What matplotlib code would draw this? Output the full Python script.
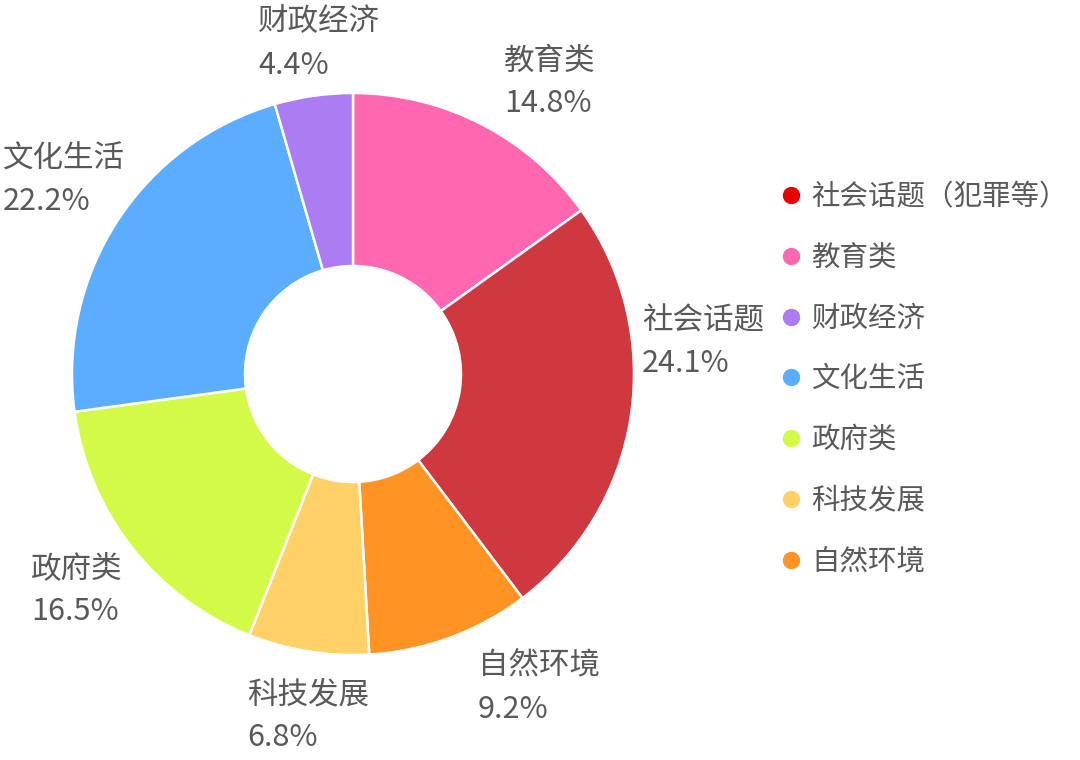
import matplotlib
matplotlib.use("Agg")
import matplotlib.pyplot as plt
from matplotlib.lines import Line2D

plt.rcParams['font.family'] = ['Noto Sans CJK SC', 'DejaVu Sans']
plt.rcParams['font.weight'] = 'medium'

# данные
names = ['教育类', '社会话题', '自然环境', '科技发展', '政府类', '文化生活', '财政经济']
values = [14.8, 24.1, 9.2, 6.8, 16.5, 22.2, 4.4]
colors = ['#FF68B0', '#D0383F', '#FF9424', '#FFD166', '#D4FA48', '#5AADFF', '#AB7CF2']

legend_names = ['社会话题（犯罪等）', '教育类', '财政经济', '文化生活', '政府类', '科技发展', '自然环境']
legend_colors = ['#E60000', '#FF68B0', '#AB7CF2', '#5AADFF', '#D4FA48', '#FFD166', '#FF9424']

# положение подписей (левый край, центр первой строки), пиксели
label_pos = [(504, 61), (642, 321), (478, 666), (247, 695), (31, 569), (3, 159), (258, 22)]
text_color = '#595959'

fig = plt.figure(figsize=(10.8, 7.6), dpi=100)
ax = fig.add_axes([0, 0, 1, 1])

# ось y перевёрнута -> против часовой в данных = по часовой на экране
ax.pie(values, colors=colors, startangle=-90, counterclock=True,
       center=(353, 374), radius=281,
       wedgeprops=dict(width=173, edgecolor='white', linewidth=1.8))
ax.set_xlim(0, 1080)
ax.set_ylim(760, 0)
ax.set_aspect('equal')
ax.axis('off')

for name, v, (x, y) in zip(names, values, label_pos):
    ax.text(x, y, name, fontsize=22, color=text_color, ha='left', va='center')
    ax.text(x, y + 43, '%.1f%%' % v, fontsize=22, color=text_color, ha='left', va='center')

handles = [Line2D([], [], marker='o', ls='', color=c, markersize=11.5) for c in legend_colors]
fig.legend(handles, legend_names, loc='upper left', bbox_to_anchor=(780 / 1080, 1 - 182 / 760),
           frameon=False, fontsize=20.5, labelcolor=text_color, handlelength=0.8,
           handletextpad=0.3, labelspacing=1.08, borderpad=0, borderaxespad=0)

fig.savefig('out.png', dpi=100, facecolor='white')
